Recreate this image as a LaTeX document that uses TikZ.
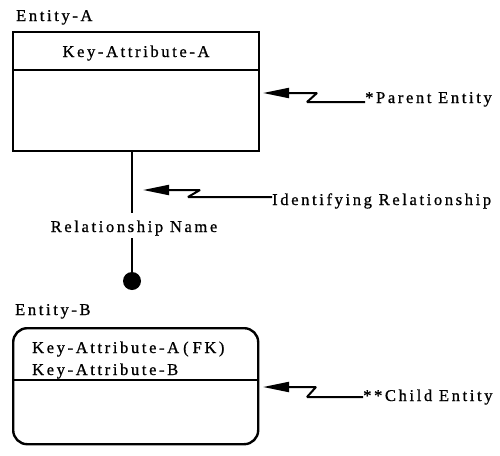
\documentclass[tikz,border=0pt]{standalone}
\usepackage{fontspec}
\setmainfont{Liberation Serif}[LetterSpace=16, FakeBold=0.9]
\usetikzlibrary{arrows.meta}
\begin{document}
\begin{tikzpicture}[x=1pt,y=-1pt,
  lbl/.style={inner sep=0pt, font=\fontsize{16.5}{19}\selectfont},
  entbox/.style={draw, line width=2.4pt, inner sep=0pt, anchor=north west},
  divider/.style={line width=2pt},
  relline/.style={line width=2pt},
  zig/.style={line width=2pt, line join=bevel,
    -{Triangle[length=26pt,width=10pt]}},
]
\useasboundingbox (0,0) rectangle (500,455);

% Entity-A (independent entity, square corners)
\node[lbl, anchor=base west] (nameA) at (16,21) {Entity-A};
\node[entbox, minimum width=246pt, minimum height=119pt] (entA) at (12,31) {};
\draw[divider] (12,70) coordinate (divAl) -- (258,70) coordinate (divAr);
\node[lbl, anchor=base] (keyA) at (136,57) {Key-Attribute-A};

% Entity-B (dependent entity, rounded corners)
\node[lbl, anchor=base west] (nameB) at (15,315) {Entity-B};
\node[entbox, rounded corners=14pt, minimum width=245pt, minimum height=116pt] (entB) at (12,327) {};
\draw[divider] (12,380) coordinate (divBl) -- (257,380) coordinate (divBr);
\node[lbl, anchor=base west] (fkA) at (32,353) {Key-Attribute-A\hspace{4pt}(\hspace{4pt}FK)};
\node[lbl, anchor=base west] (keyB) at (32,375) {Key-Attribute-B};

% Identifying relationship with its name and the dot at the child end
\coordinate (relTop) at (132,150);
\node[lbl, anchor=base, inner sep=0pt] (relName) at (134,232) {Relationship Name};
\node[circle, fill=black, inner sep=0pt, minimum size=18pt] (dot) at (132,281) {};
\draw[relline] (relTop) -- (132,213) coordinate (relA);
\draw[relline] (132,238) coordinate (relB) -- (dot.center);

% Annotation labels
\node[lbl, anchor=base west] (parent) at (365,103) {*Parent Entity};
\node[lbl, anchor=base west] (ident) at (272,205) {Identifying Relationship};
\node[lbl, anchor=base west] (child) at (363,401) {**Child Entity};

% Zig-zag pointers from the labels
\coordinate (tipParent) at (263,93);
\coordinate (tipIdent) at (143,190);
\coordinate (tipChild) at (263,387);
\draw[zig] (parent.west |- 0,102) -- (307,102) -- (317,93) -- (tipParent);
\draw[zig] (ident.west |- 0,197) -- (188,197) -- (200,190) -- (tipIdent);
\draw[zig] (child.west |- 0,397) -- (307,397) -- (316,387) -- (tipChild);
\end{tikzpicture}
\end{document}
